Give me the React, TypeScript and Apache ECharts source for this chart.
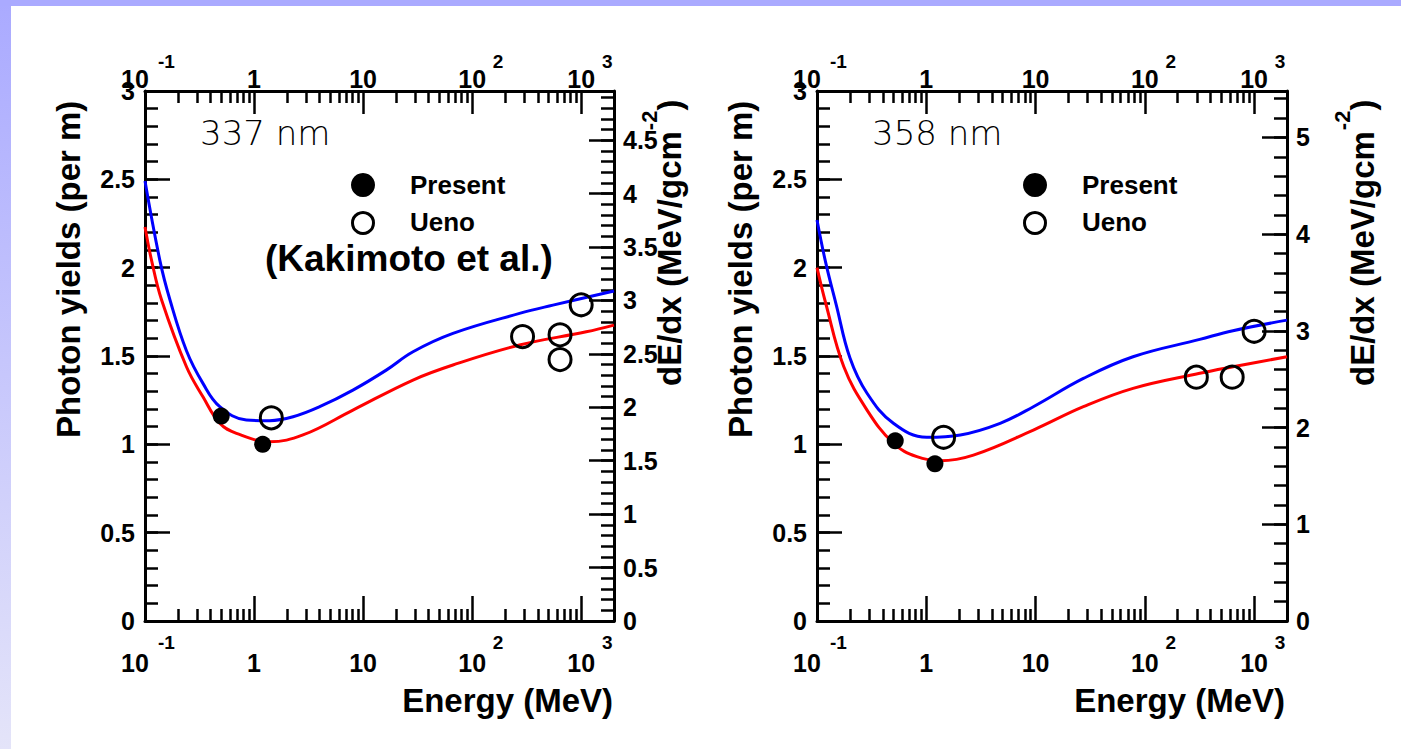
import { useEffect, useRef } from "react";
import * as echarts from "echarts";

const FONT = "'Liberation Sans', Arial, Helvetica, sans-serif";
const THIN_FONT = "'DejaVu Sans ExtraLight', 'DejaVu Sans', sans-serif";

// Energy axis (MeV), logarithmic
const energyMin = 0.1;
const energyMax = 2000;
const energyMajor = [0.1, 1, 10, 100, 1000];
const energyPlainLabels = [1, 10, 100, 1000];
const energyHighPowers = [100, 1000];
const energyLowest = [0.1];
const energyMinor = [
  0.2, 0.3, 0.4, 0.5, 0.6, 0.7, 0.8, 0.9,
  2, 3, 4, 5, 6, 7, 8, 9,
  20, 30, 40, 50, 60, 70, 80, 90,
  200, 300, 400, 500, 600, 700, 800, 900,
];

// Photon yield axis (per m)
const yieldMax = 3;
const yieldMajor = [0, 0.5, 1, 1.5, 2, 2.5, 3];

// dE/dx axes (MeV/gcm^-2)
const dedxMax337 = 4.96;
const dedxMajor337 = [0, 0.5, 1, 1.5, 2, 2.5, 3, 3.5, 4, 4.5];
const dedxMax358 = 5.48;
const dedxMajor358 = [0, 1, 2, 3, 4, 5];

// 337 nm band
const present337 = [[0.5, 1.16], [1.2, 1.0]];
const ueno337 = [[1.44, 1.15], [290, 1.61], [640, 1.62], [640, 1.48], [1000, 1.79]];
const blue337 = [
  [0.1, 2.49], [0.137, 2.04], [0.169, 1.82], [0.24, 1.53], [0.34, 1.345],
  [0.485, 1.213], [0.85, 1.138], [1.39, 1.134], [2.28, 1.156], [4.0, 1.213],
  [8.07, 1.307], [16.3, 1.42], [28.7, 1.524], [66.7, 1.628], [272, 1.741],
  [551, 1.788], [2000, 1.868],
];
const red337 = [
  [0.1, 2.23], [0.115, 2.04], [0.142, 1.817], [0.24, 1.439], [0.34, 1.269],
  [0.485, 1.119], [0.69, 1.062], [1.39, 1.015], [2.81, 1.053], [8.07, 1.194],
  [28.7, 1.364], [66.7, 1.449], [272, 1.562], [1114, 1.637], [2000, 1.675],
];

// 358 nm band
const present358 = [[0.52, 1.02], [1.2, 0.89]];
const ueno358 = [[1.44, 1.04], [296, 1.38], [630, 1.38], [1000, 1.64]];
const blue358 = [
  [0.1, 2.27], [0.12, 2.03], [0.15, 1.79], [0.2, 1.49], [0.287, 1.289],
  [0.5, 1.119], [1.01, 1.04], [2.05, 1.053], [4.74, 1.119], [9.55, 1.213],
  [27.4, 1.373], [78, 1.496], [318, 1.594], [640, 1.643], [2000, 1.703],
];
const red358 = [
  [0.1, 2.0], [0.12, 1.8], [0.176, 1.439], [0.287, 1.194], [0.5, 1.006],
  [0.82, 0.93], [1.34, 0.907], [2.7, 0.939], [9.55, 1.081], [27.4, 1.213],
  [78, 1.317], [318, 1.402], [640, 1.439], [2000, 1.496],
];

const ladder = (top: number, step: number) =>
  Array.from({ length: Math.floor(top / step + 1e-9) + 1 }, (_, i) => +(i * step).toFixed(3));

const black = "#000";
const tickLine = { color: black, width: 2.5 };
const axisLineStyle = { color: black, width: 3 };

// mantissa and exponent of the energy tick labels
const energyBase = (v: number) => (v > 0.5 && v < 5 ? "1" : "10");
const energyExponent = (v: number) => (v < 0.5 ? "-1" : v < 500 ? "2" : "3");

const labelFont = { fontWeight: "bold", fontFamily: FONT, color: black };
const BASE_SIZE = 25;
const EXP_SIZE = 19;

function energyAxes(gridIndex: number) {
  const base = {
    type: "log",
    logBase: 10,
    min: energyMin,
    max: energyMax,
    gridIndex,
    splitLine: { show: false },
    minorTick: { show: false },
    minorSplitLine: { show: false },
  };
  const side = (position: string, majorLen: number, baseMargin: number, expMargin: number) => [
    // axis line, decade ticks and the plain "1", "10" labels
    {
      ...base,
      position,
      axisLine: { show: true, onZero: false, lineStyle: axisLineStyle },
      axisTick: { show: true, inside: true, length: majorLen, customValues: energyMajor, lineStyle: tickLine },
      axisLabel: { show: true, customValues: energyPlainLabels, margin: baseMargin, formatter: energyBase, fontSize: BASE_SIZE, ...labelFont },
    },
    // minor ticks, with the exponents of 10^2 and 10^3
    {
      ...base,
      position,
      axisLine: { show: false, onZero: false },
      axisTick: { show: true, inside: true, length: 12, customValues: energyMinor, lineStyle: tickLine },
      axisLabel: {
        show: true,
        customValues: energyHighPowers,
        margin: expMargin,
        formatter: energyExponent,
        fontSize: EXP_SIZE,
        padding: [0, 0, 0, 52],
        ...labelFont,
      },
    },
    // "10" of 10^-1, set a little left of its tick
    {
      ...base,
      position,
      axisLine: { show: false, onZero: false },
      axisTick: { show: false },
      axisLabel: {
        show: true,
        customValues: energyLowest,
        margin: baseMargin,
        formatter: energyBase,
        fontSize: BASE_SIZE,
        padding: [0, 20, 0, 0],
        ...labelFont,
      },
    },
    // exponent of 10^-1
    {
      ...base,
      position,
      axisLine: { show: false, onZero: false },
      axisTick: { show: false },
      axisLabel: {
        show: true,
        customValues: energyLowest,
        margin: expMargin,
        formatter: energyExponent,
        fontSize: EXP_SIZE,
        padding: [0, 0, 0, 43],
        ...labelFont,
      },
    },
  ];
  return [...side("bottom", 25, 29, 12), ...side("top", 23, 0, 20)];
}

function valueAxes(gridIndex: number, position: string, max: number, majors: number[], minors: number[], margin: number) {
  const base = {
    type: "value",
    min: 0,
    max,
    gridIndex,
    position,
    splitLine: { show: false },
  };
  return [
    {
      ...base,
      axisLine: { show: true, onZero: false, lineStyle: axisLineStyle },
      axisTick: { show: true, inside: true, length: 25, customValues: majors, lineStyle: tickLine },
      axisLabel: {
        show: true,
        customValues: majors,
        margin,
        fontSize: 25,
        ...labelFont,
        formatter: (v: number) => String(v),
      },
    },
    {
      ...base,
      axisLine: { show: false, onZero: false },
      axisTick: { show: true, inside: true, length: 13, customValues: minors, lineStyle: tickLine },
      axisLabel: { show: false },
    },
  ];
}

function txt(x: number, y: number, text: string, font: string, align = "left", vAlign = "middle", extra: any = {}) {
  return {
    type: "text",
    x,
    y,
    silent: true,
    z: 100,
    ...extra,
    style: { text, font, fill: black, align, verticalAlign: vAlign, textAlign: align, textVerticalAlign: vAlign },
  };
}

const titleRich = {
  m: { fontSize: 33, fontWeight: "bold", fontFamily: FONT, fill: black, color: black, lineHeight: 36, verticalAlign: "bottom" },
  s: { fontSize: 22, fontWeight: "bold", fontFamily: FONT, fill: black, color: black, lineHeight: 22, verticalAlign: "bottom", padding: [0, 0, 26, 1] },
};

function dedxTitle(x: number, y: number) {
  return {
    type: "text",
    x,
    y,
    rotation: Math.PI / 2,
    silent: true,
    z: 100,
    style: {
      text: "{m|dE/dx (MeV/gcm}{s|-2}{m|)}",
      rich: titleRich,
      fill: black,
      align: "left",
      verticalAlign: "bottom",
      textAlign: "left",
      textVerticalAlign: "bottom",
    },
  };
}

function panelGraphics(dx: number, label: string, withRef: boolean, dedxTitleX: number) {
  const bold = (size: number) => `bold ${size}px ${FONT}`;
  const items: any[] = [
    txt(85 + dx, 438, "Photon yields (per m)", bold(33), "left", "bottom", { rotation: Math.PI / 2 }),
    txt(613 + dx, 700, "Energy (MeV)", bold(33), "right", "middle"),
    txt(200 + dx, 133, label, `200 34px ${THIN_FONT}`, "left", "middle"),
    { type: "circle", silent: true, z: 100, shape: { cx: 363 + dx, cy: 185, r: 12 }, style: { fill: black } },
    { type: "circle", silent: true, z: 100, shape: { cx: 363 + dx, cy: 223, r: 10.5 }, style: { fill: "none", stroke: black, lineWidth: 3 } },
    txt(410 + dx, 185, "Present", bold(26), "left", "middle"),
    txt(410 + dx, 222, "Ueno", bold(26), "left", "middle"),
    dedxTitle(dedxTitleX, 386),
  ];
  if (withRef) items.push(txt(265 + dx, 258, "(Kakimoto et al.)", bold(37), "left", "middle"));
  return items;
}

function curve(name: string, data: number[][], color: string, xAxisIndex: number, yAxisIndex: number) {
  return {
    name,
    type: "line",
    xAxisIndex,
    yAxisIndex,
    data,
    showSymbol: false,
    symbol: "none",
    smooth: 0.4,
    silent: true,
    lineStyle: { color, width: 3 },
    z: 3,
  };
}

function points(name: string, data: number[][], filled: boolean, xAxisIndex: number, yAxisIndex: number) {
  return {
    name,
    type: "scatter",
    xAxisIndex,
    yAxisIndex,
    data,
    symbol: "circle",
    symbolSize: filled ? 17 : 22,
    silent: true,
    itemStyle: filled
      ? { color: black, opacity: 1 }
      : { color: "rgba(255,255,255,0)", borderColor: black, borderWidth: 3, opacity: 1 },
    z: 4,
  };
}

export default function App() {
  const ref = useRef<HTMLDivElement>(null);

  useEffect(() => {
    if (!ref.current) return;
    const chart = echarts.init(ref.current, undefined, { renderer: "svg" });

    const xAxes0 = energyAxes(0);
    const xAxes1 = energyAxes(1);
    const x1 = xAxes0.length; // first x axis of the second panel
    const y1 = 4; // first y axis of the second panel

    const option: any = {
      animation: false,
      backgroundColor: "#fff",
      textStyle: { fontFamily: FONT },
      grid: [
        { left: 145, top: 91, width: 469, height: 530, containLabel: false },
        { left: 817, top: 91, width: 470, height: 530, containLabel: false },
      ],
      xAxis: [...xAxes0, ...xAxes1],
      yAxis: [
        ...valueAxes(0, "left", yieldMax, yieldMajor, ladder(yieldMax, 0.1), 10),
        ...valueAxes(0, "right", dedxMax337, dedxMajor337, ladder(dedxMax337, 0.1), 9),
        ...valueAxes(1, "left", yieldMax, yieldMajor, ladder(yieldMax, 0.1), 10),
        ...valueAxes(1, "right", dedxMax358, dedxMajor358, ladder(dedxMax358, 0.2), 9),
      ],
      series: [
        curve("337 nm blue", blue337, "#0000ff", 0, 0),
        curve("337 nm red", red337, "#ff0000", 0, 0),
        points("Present", present337, true, 0, 0),
        points("Ueno", ueno337, false, 0, 0),
        curve("358 nm blue", blue358, "#0000ff", x1, y1),
        curve("358 nm red", red358, "#ff0000", x1, y1),
        points("Present", present358, true, x1, y1),
        points("Ueno", ueno358, false, x1, y1),
      ],
      graphic: [
        {
          type: "rect",
          silent: true,
          z: 0,
          shape: { x: 0, y: 0, width: 11, height: 749 },
          style: {
            fill: new echarts.graphic.LinearGradient(0, 0, 0, 1, [
              { offset: 0, color: "#aaaaff" },
              { offset: 1, color: "#e4e4f9" },
            ]),
          },
        },
        { type: "rect", silent: true, z: 0, shape: { x: 0, y: 0, width: 1401, height: 6 }, style: { fill: "#aaaaff" } },
        ...panelGraphics(0, "337 nm", true, 686),
        ...panelGraphics(672, "358 nm", false, 1379),
      ],
    };

    chart.setOption(option);
    return () => chart.dispose();
  }, []);

  return <div ref={ref} style={{ position: "fixed", left: 0, top: 0, width: 1401, height: 749 }} />;
}
